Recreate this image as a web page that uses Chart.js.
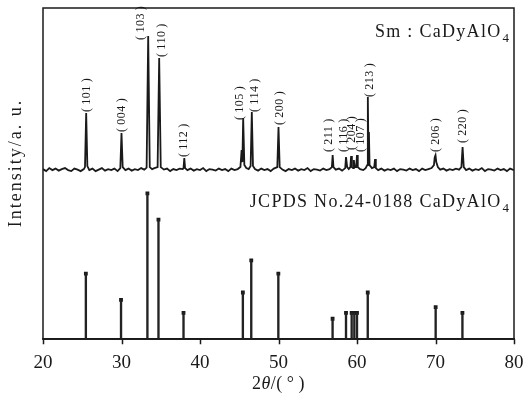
<!DOCTYPE html>
<html lang="en">
<head>
<meta charset="UTF-8">
<title>Sm:CaDyAlO4 XRD</title>
<script src="https://cdn.jsdelivr.net/npm/chart.js"></script>
<style>
  body { margin: 0; background: #fff; }
</style>
</head>
<body>
<canvas id="xrdChart" width="528" height="395"></canvas>
<script>
// measured pattern: [2theta, counts above baseline]
const obsTrace = [
  [20.0, 1], [20.4, -1], [20.8, 2], [21.2, 0], [21.6, 1.5], [22.0, -0.5], [22.4, 1], [22.8, 2],
  [23.2, 0], [23.6, -1], [24.0, 1.5], [24.4, 0.5], [24.8, -1], [25.2, 1],
  [25.35, 3], [25.5, 57], [25.65, 4],
  [25.9, 0], [26.3, 1.5], [26.7, -1], [27.1, 0.5], [27.5, 2], [27.9, -0.5], [28.3, 1], [28.7, 0],
  [29.1, 1.5], [29.5, -1], [29.85, 2], [30.0, 37], [30.15, 3], [30.5, 0], [30.9, 1.5], [31.3, -0.5],
  [31.7, 1], [32.1, 0], [32.5, 2], [32.9, 0.5], [33.2, 2.5], [33.4, 134], [33.6, 3], [33.9, 1],
  [34.2, 2], [34.6, 3], [34.8, 112], [35.0, 3], [35.4, 0.5], [35.8, 1.5], [36.2, -1], [36.6, 1],
  [37.0, 0], [37.4, 1.5], [37.8, 1], [37.9, 2], [38.0, 12], [38.1, 2], [38.4, 0], [38.8, 1.5],
  [39.2, -0.5], [39.6, 1], [40.0, 0], [40.4, 2], [40.8, -1], [41.2, 1], [41.6, 0.5], [42.0, -0.5],
  [42.4, 1.5], [42.8, 0], [43.2, 1], [43.6, -1], [44.0, 1.5], [44.4, 0], [44.8, 1],
  [45.15, 3], [45.3, 20], [45.4, 8], [45.5, 52], [45.65, 5], [45.9, 2], [46.2, 1], [46.45, 4],
  [46.6, 58], [46.75, 4], [47.0, 1], [47.4, -0.5], [47.8, 1.5], [48.2, 0], [48.6, 1], [49.0, -1],
  [49.4, 1.5], [49.85, 3], [50.0, 43], [50.15, 3], [50.5, 0.5], [50.9, -1], [51.3, 1], [51.7, 0],
  [52.1, 1.5], [52.5, -0.5], [52.9, 1], [53.3, 0], [53.7, 2], [54.1, -1], [54.5, 1], [54.9, 0.5],
  [55.3, -0.5], [55.7, 1.5], [56.1, 0], [56.5, 1], [56.8, 3], [56.9, 15], [57.0, 3], [57.3, 0.5],
  [57.7, 1.5], [58.1, -0.5], [58.5, 2], [58.6, 13], [58.75, 3], [58.95, 1], [59.15, 3], [59.25, 14],
  [59.35, 3], [59.5, 2], [59.6, 10], [59.7, 3], [59.9, 3], [60.0, 15], [60.1, 3], [60.4, 1],
  [60.8, 0], [61.1, 2], [61.3, 5], [61.38, 73], [61.46, 15], [61.52, 38], [61.6, 5], [61.9, 2],
  [62.2, 3], [62.3, 11], [62.4, 2], [62.7, 0], [63.1, 1.5], [63.5, -0.5], [63.9, 1], [64.3, 0],
  [64.7, 1.5], [65.1, -1], [65.5, 1], [65.9, 0.5], [66.3, -0.5], [66.7, 1.5], [67.1, 0], [67.5, 1],
  [67.9, -1], [68.3, 1.5], [68.7, 0], [69.1, 1], [69.5, 2], [69.8, 5], [69.9, 13], [70.0, 15],
  [70.1, 8], [70.3, 3], [70.6, 0.5], [71.0, 1.5], [71.4, -0.5], [71.8, 1], [72.2, 0], [72.6, 1.5],
  [73.0, 0.5], [73.3, 3], [73.45, 23], [73.6, 3], [73.9, 0], [74.3, 1.5], [74.7, -0.5], [75.1, 1],
  [75.5, 0], [75.9, 2], [76.3, -1], [76.7, 1], [77.1, 0.5], [77.5, -0.5], [77.9, 1.5], [78.3, 0],
  [78.7, 1], [79.1, -1], [79.5, 1.5], [80.0, 0]
];

// indexed peaks of the measured pattern
const hklLabels = ['101', '004', '103', '110', '112', '105', '114', '200', '211', '116', '204', '107', '213', '206', '220'];
const hklAngles = [25.5, 30.0, 33.4, 34.8, 38.0, 45.5, 46.6, 50.0, 56.9, 58.6, 59.25, 60.0, 61.38, 70.0, 73.45];
const hklCounts = [57, 37, 134, 112, 12, 52, 58, 43, 15, 13, 14, 15, 73, 15, 23];

// JCPDS No.24-0188 reference lines
const refAngles = [25.46, 29.94, 33.3, 34.71, 37.9, 45.46, 46.53, 49.98, 56.89, 58.6, 59.32, 59.66, 60.0, 61.37, 70.02, 73.43];
const refIntensity = [45, 27, 100, 82, 18, 32, 54, 45, 14, 18, 18, 18, 18, 32, 22, 18];

const xTickStep = 10;

const ink = '#1a1a1a';
const serif = '"Liberation Serif", "DejaVu Serif", serif';

// label nudges [dx px, gap px] so the crowded ones don't sit on top of each other
const labelNudge = [[1, 1], [0, 1], [-7, -4], [3, 1], [0, 1], [-3, -2], [3, 0], [1, 2],
  [-4, 3], [-2, 5], [1, 6], [4, 3], [2, 0], [0, 3], [0, 4]];

const refPoints = refAngles.map((a, i) => ({ x: a, y: refIntensity[i] }));

const xrdDecor = {
  id: 'xrdDecor',
  afterDraw(chart) {
    const ctx = chart.ctx;
    const area = chart.chartArea;
    const x = chart.scales.x;
    const yObs = chart.scales.yObs;
    ctx.save();

    // frame
    ctx.strokeStyle = ink;
    ctx.lineWidth = 1.5;
    ctx.strokeRect(area.left, area.top, area.right - area.left, area.bottom - area.top);

    // outward tick marks on the 2theta axis
    ctx.beginPath();
    x.ticks.forEach(t => {
      const px = Math.round(x.getPixelForValue(t.value)) + 0.5;
      ctx.moveTo(px, area.bottom);
      ctx.lineTo(px, area.bottom + 5);
    });
    ctx.stroke();

    // hkl labels, rotated
    ctx.fillStyle = ink;
    ctx.font = '12px ' + serif;
    ctx.letterSpacing = '0.5px';
    ctx.textAlign = 'left';
    ctx.textBaseline = 'middle';
    hklLabels.forEach((lab, i) => {
      const px = x.getPixelForValue(hklAngles[i]) + labelNudge[i][0];
      const py = yObs.getPixelForValue(hklCounts[i]) - labelNudge[i][1];
      ctx.save();
      ctx.translate(px, py);
      ctx.rotate(-Math.PI / 2);
      ctx.fillText('(\u2009' + lab + '\u2009)', 0, 0);
      ctx.restore();
    });

    // sample names
    ctx.textBaseline = 'alphabetic';
    ctx.textAlign = 'right';
    const drawName = (txt, right, base) => {
      ctx.letterSpacing = '1px';
      ctx.font = '13px ' + serif;
      ctx.fillText('4', right, base + 5);
      const w4 = ctx.measureText('4').width;
      ctx.letterSpacing = '1.3px';
      ctx.font = '18px ' + serif;
      ctx.fillText(txt, right - w4 - 1, base);
    };
    drawName('Sm : CaDyAlO', area.right - 4, 37);
    drawName('JCPDS No.24-0188 CaDyAlO', area.right - 4, 207);

    // y title
    ctx.save();
    ctx.translate(16, 163);
    ctx.rotate(-Math.PI / 2);
    ctx.textAlign = 'center';
    ctx.textBaseline = 'middle';
    ctx.letterSpacing = '2px';
    ctx.font = '18px ' + serif;
    ctx.fillText('Intensity/a. u.', 0, 0);
    ctx.restore();

    // x title 2θ/(°) with italic theta
    const parts = [['2', '18px '], ['\u03b8', 'italic 18px '], ['/(\u2009\u00b0\u2009)', '18px ']];
    ctx.textAlign = 'left';
    ctx.letterSpacing = '0.5px';
    let total = 0;
    parts.forEach(p => { ctx.font = p[1] + serif; total += ctx.measureText(p[0]).width; });
    let cx = (area.left + area.right) / 2 - total / 2;
    parts.forEach(p => {
      ctx.font = p[1] + serif;
      ctx.fillText(p[0], cx, 389);
      cx += ctx.measureText(p[0]).width;
    });
    ctx.restore();
  }
};

new Chart(document.getElementById('xrdChart'), {
  type: 'scatter',
  data: {
    datasets: [
      {
        type: 'line',
        data: obsTrace.map(p => ({ x: p[0], y: p[1] })),
        yAxisID: 'yObs',
        borderColor: ink,
        borderWidth: 1.8,
        pointRadius: 0,
        tension: 0
      },
      {
        type: 'bar',
        data: refPoints,
        yAxisID: 'yRef',
        backgroundColor: '#222',
        barThickness: 1.7
      },
      {
        type: 'scatter',
        data: refPoints,
        yAxisID: 'yRef',
        pointStyle: 'rect',
        pointRadius: 2.7,
        backgroundColor: ink,
        borderColor: ink,
        borderWidth: 0
      }
    ]
  },
  options: {
    responsive: false,
    animation: false,
    layout: { padding: { left: 43, right: 14, top: 8, bottom: 14 } },
    plugins: { legend: { display: false }, tooltip: { enabled: false } },
    scales: {
      x: {
        type: 'linear',
        min: 20,
        max: 80,
        offset: false,
        afterFit: scale => { scale.paddingLeft = 0; scale.paddingRight = 0; },
        grid: { display: false, tickLength: 5 },
        border: { display: true, color: ink, width: 1.5 },
        ticks: { stepSize: xTickStep, autoSkip: false, color: ink, font: { family: serif, size: 19 }, padding: 7, maxRotation: 0 }
      },
      yObs: {
        type: 'linear',
        position: 'left',
        display: false,
        min: -169,
        max: 162
      },
      yRef: {
        type: 'linear',
        position: 'left',
        display: false,
        min: 0,
        max: 227
      }
    }
  },
  plugins: [xrdDecor]
});
</script>
</body>
</html>
